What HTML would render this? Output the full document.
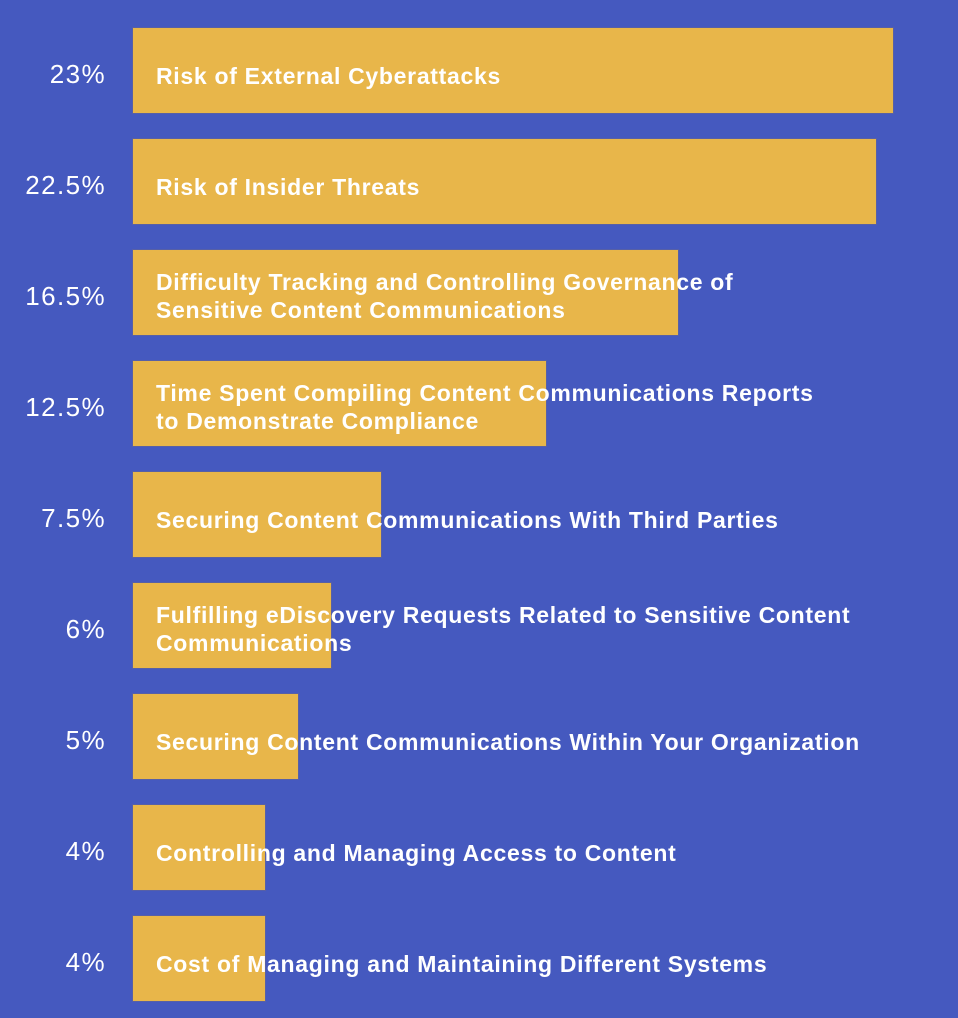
<!DOCTYPE html>
<html><head><meta charset="utf-8"><style>
html,body{margin:0;padding:0;background:#4559BF;}
#c{position:relative;width:958px;height:1018px;overflow:hidden;background:#4559BF;font-family:"Liberation Sans",sans-serif;}
.bar{position:absolute;background:#E8B64A;box-shadow:0 0 0 1px rgba(120,110,120,0.35);}
.pct{position:absolute;width:106px;left:0;text-align:right;color:#fff;font-size:26px;letter-spacing:1.4px;}
.lab{position:absolute;left:156px;color:#fff;font-weight:bold;font-size:23px;line-height:28px;white-space:nowrap;letter-spacing:0.7px;}
</style></head><body>
<div id="c"></div>
<script>
const categories=["Risk of External Cyberattacks","Risk of Insider Threats","Difficulty Tracking and Controlling Governance of\nSensitive Content Communications","Time Spent Compiling Content Communications Reports\nto Demonstrate Compliance","Securing Content Communications With Third Parties","Fulfilling eDiscovery Requests Related to Sensitive Content\nCommunications","Securing Content Communications Within Your Organization","Controlling and Managing Access to Content","Cost of Managing and Maintaining Different Systems"];
const values=[23,22.5,16.5,12.5,7.5,6,5,4,4];
const valueLabels=["23%","22.5%","16.5%","12.5%","7.5%","6%","5%","4%","4%"];
const c=document.getElementById('c');
const x0=133,pxPer=760/23;
function xs(v){return v*pxPer;}
function ys(i){return 28+i*111;}
values.forEach((v,i)=>{
  const t=ys(i);
  const b=document.createElement('div');
  b.className='bar';
  
  
  b.style.cssText=`left:${x0}px;top:${t}px;width:${xs(v)}px;height:85px;`;
  c.appendChild(b);
  const p=document.createElement('div');
  p.className='pct';
  
  
  p.textContent=valueLabels[i];
  p.style.top=(t+31)+'px';
  c.appendChild(p);
  const l=document.createElement('div');
  l.className='lab';
  
  
  const lines=categories[i].split('\n');
  l.innerHTML=lines.join('<br>');
  l.style.top=(t+(lines.length===1?48:45.5)-lines.length*14)+'px';
  c.appendChild(l);
});
</script>
</body></html>
